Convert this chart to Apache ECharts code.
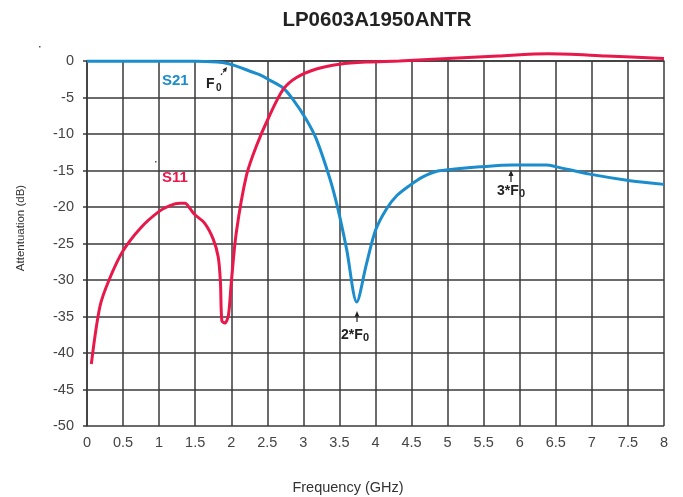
<!DOCTYPE html>
<html>
<head>
<meta charset="utf-8">
<script src="https://cdn.jsdelivr.net/npm/echarts@6/dist/echarts.min.js"></script>
<style>html,body{margin:0;padding:0;background:#fff}#c{width:683px;height:497px}</style>
</head>
<body>
<div id="c"></div>
<script>
var title = 'LP0603A1950ANTR';
var xTicks = [0, 0.5, 1, 1.5, 2, 2.5, 3, 3.5, 4, 4.5, 5, 5.5, 6, 6.5, 7, 7.5, 8];
var yTicks = [0, -5, -10, -15, -20, -25, -30, -35, -40, -45, -50];

var s21Freq = [0, 0.5, 1.0, 1.5, 1.8, 1.95, 2.1, 2.26, 2.4, 2.53, 2.72, 2.85, 3.04, 3.18, 3.37, 3.48, 3.6, 3.74, 3.87, 4.0, 4.15, 4.3, 4.48, 4.65, 4.85, 5.1, 5.45, 5.9, 6.37, 6.51, 6.97, 7.53, 8.0];
var s21Val  = [-0.05, -0.05, -0.05, -0.05, -0.15, -0.35, -0.8, -1.4, -1.9, -2.6, -3.7, -5.2, -8.0, -10.7, -16.2, -20.3, -25.8, -33.0, -28.0, -23.2, -20.3, -18.4, -17.0, -15.9, -15.1, -14.8, -14.5, -14.25, -14.25, -14.5, -15.5, -16.4, -16.9];

var s11Freq = [0.06, 0.18, 0.31, 0.5, 0.75, 1.0, 1.15, 1.29, 1.36, 1.42, 1.49, 1.63, 1.75, 1.82, 1.85, 1.87, 1.91, 1.96, 2.0, 2.07, 2.21, 2.35, 2.53, 2.72, 2.9, 3.18, 3.5, 3.87, 4.33, 5.0, 5.7, 6.4, 7.2, 8.0];
var s11Val  = [-41.5, -33.6, -29.9, -26.0, -22.8, -20.6, -19.8, -19.5, -19.5, -20.1, -21.0, -22.2, -24.4, -26.9, -30.3, -35.6, -35.9, -34.9, -30.4, -23.5, -15.7, -11.6, -7.5, -3.9, -2.3, -1.1, -0.45, -0.15, 0.0, 0.35, 0.7, 1.0, 0.7, 0.35];

var s21Name = 'S21', s11Name = 'S11';
var xName = 'Frequency (GHz)', yName = 'Attentuation (dB)';

function pairs(xs, ys) { return xs.map(function (x, i) { return [x, ys[i]]; }); }

var BLUE = '#1b8dcd', RED = '#e8184b', GRID = '#3a3a3a', TXT = '#444';
var FONT = '"Liberation Sans", Arial, Helvetica, sans-serif';

var chart = echarts.init(document.getElementById('c'), null, { renderer: 'canvas' });

function arrow(x, y1, y2) {
  return [
    { type: 'line', shape: { x1: x, y1: y1, x2: x, y2: y2 + 5 }, style: { stroke: '#222', lineWidth: 1.2 } },
    { type: 'polygon', shape: { points: [[x, y2], [x - 2.5, y2 + 6], [x + 2.5, y2 + 6]] }, style: { fill: '#222' } }
  ];
}

var graphics = [
  { type: 'text', style: { text: title, x: 377, y: 20, align: 'center', verticalAlign: 'middle', font: 'bold 20.5px ' + FONT, fill: '#222' } },
  { type: 'text', style: { text: xName, x: 348, y: 488, align: 'center', verticalAlign: 'middle', font: '14.5px ' + FONT, fill: '#333' } },
  { type: 'text', rotation: Math.PI / 2, x: 21, y: 228, style: { text: yName, x: 0, y: 0, align: 'center', verticalAlign: 'middle', font: '11.5px ' + FONT, fill: '#333' } },
  { type: 'text', style: { text: s21Name, x: 162, y: 81, align: 'left', verticalAlign: 'middle', font: 'bold 15px ' + FONT, fill: BLUE } },
  { type: 'text', style: { text: s11Name, x: 162, y: 178, align: 'left', verticalAlign: 'middle', font: 'bold 15px ' + FONT, fill: RED } },
  { type: 'text', style: { text: 'F', x: 206, y: 84, align: 'left', verticalAlign: 'middle', font: 'bold 14px ' + FONT, fill: '#222' } },
  { type: 'text', style: { text: '0', x: 216, y: 88, align: 'left', verticalAlign: 'middle', font: 'bold 10px ' + FONT, fill: '#222' } },
  { type: 'line', shape: { x1: 221, y1: 75, x2: 225, y2: 70 }, style: { stroke: '#222', lineWidth: 1.2, lineDash: [2, 1.5] } },
  { type: 'polygon', shape: { points: [[227, 67], [222.5, 69.5], [226, 72]] }, style: { fill: '#222' } },
  { type: 'text', style: { text: '2*F', x: 341, y: 335, align: 'left', verticalAlign: 'middle', font: 'bold 14px ' + FONT, fill: '#222' } },
  { type: 'text', style: { text: '0', x: 363, y: 338, align: 'left', verticalAlign: 'middle', font: 'bold 11px ' + FONT, fill: '#222' } },
  { type: 'text', style: { text: '3*F', x: 497, y: 191, align: 'left', verticalAlign: 'middle', font: 'bold 14px ' + FONT, fill: '#222' } },
  { type: 'text', style: { text: '0', x: 519, y: 194, align: 'left', verticalAlign: 'middle', font: 'bold 11px ' + FONT, fill: '#222' } },
  { type: 'rect', shape: { x: 39, y: 46, width: 1.5, height: 1.5 }, style: { fill: '#555' } },
  { type: 'rect', shape: { x: 155, y: 161, width: 1.5, height: 1.5 }, style: { fill: '#555' } }
].concat(arrow(357, 322, 311)).concat(arrow(511, 182, 170));

chart.setOption({
  animation: false,
  backgroundColor: '#fff',
  textStyle: { fontFamily: FONT },
  grid: { left: 87, right: 19, top: 61, bottom: 71, containLabel: false },
  xAxis: {
    type: 'value', min: 0, max: 8, interval: 0.5,
    axisLine: { show: true, lineStyle: { color: GRID, width: 1.5 } },
    axisTick: { show: false },
    splitLine: { show: true, lineStyle: { color: GRID, width: 1.5 } },
    axisLabel: { color: TXT, fontSize: 14.5, margin: 9, formatter: function (v) { return xTicks.indexOf(v) >= 0 ? String(v) : ''; } }
  },
  yAxis: {
    type: 'value', min: -50, max: 0, interval: 5,
    axisLine: { show: true, lineStyle: { color: GRID, width: 1.5 } },
    axisTick: { show: true, length: 4, lineStyle: { color: GRID, width: 1.5 } },
    splitLine: { show: true, lineStyle: { color: GRID, width: 1.5 } },
    axisLabel: { color: TXT, fontSize: 14.5, margin: 13, formatter: function (v) { return yTicks.indexOf(v) >= 0 ? String(v) : ''; } }
  },
  series: [
    { name: s21Name, type: 'line', data: pairs(s21Freq, s21Val), smooth: 0.3, symbol: 'none', clip: false, lineStyle: { color: BLUE, width: 3 }, z: 3 },
    { name: s11Name, type: 'line', data: pairs(s11Freq, s11Val), smooth: 0.3, symbol: 'none', clip: false, lineStyle: { color: RED, width: 3 }, z: 4 }
  ],
  graphic: graphics
});
</script>
</body>
</html>
